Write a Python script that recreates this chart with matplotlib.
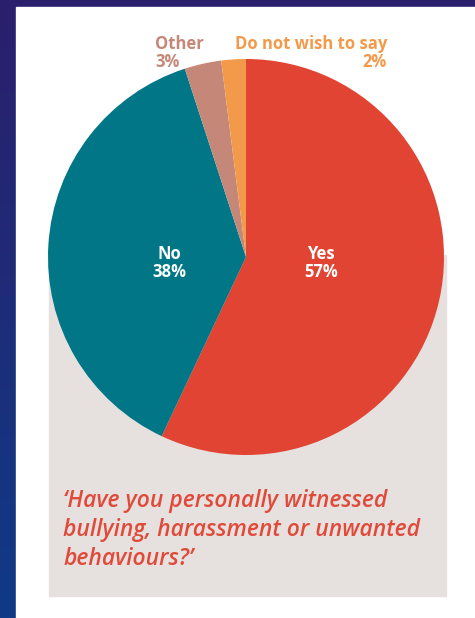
import numpy as np
import matplotlib.pyplot as plt
from matplotlib.patches import Rectangle
from matplotlib.font_manager import FontProperties

# survey answers
answers = ["Yes", "No", "Other", "Do not wish to say"]
shares = [57, 38, 3, 2]
colours = ["#e14432", "#017686", "#c58878", "#f39a4a"]
question = "\u2018Have you personally witnessed\nbullying, harassment or unwanted\nbehaviours?\u2019"

bold = FontProperties(family="Open Sans", weight=700, stretch="normal", size=12)
quote_font = FontProperties(family="Open Sans", style="italic", weight=600,
                            stretch="normal", size=16.5)

W, H = 475, 618
fig = plt.figure(figsize=(W / 100, H / 100), dpi=100)

# backdrop: dark blue gradient, white card, grey panel (pixel coords)
bg = fig.add_axes([0, 0, 1, 1])
bg.set_xlim(0, W)
bg.set_ylim(H, 0)
bg.axis("off")
top = np.array([0x2b, 0x1f, 0x6c]) / 255
bot = np.array([0x10, 0x3a, 0x86]) / 255
t = np.linspace(0, 1, 256)[:, None, None]
grad = top * (1 - t) + bot * t
bg.imshow(grad, extent=(0, W, H, 0), aspect="auto", zorder=0)
bg.add_patch(Rectangle((16, 7), W - 16, H - 7, color="white", zorder=1))
bg.add_patch(Rectangle((49, 255), 397, 341, color="#e6e1de", zorder=2))

bg.text(63, 530, question, color="#e04a3a", fontproperties=quote_font,
        va="center", ha="left", linespacing=1.3, zorder=3)

# pie centred at (246, 257) with radius 198 px
cx, cy, r = 246, 257, 198
ax = fig.add_axes([(cx - r) / W, 1 - (cy + r) / H, 2 * r / W, 2 * r / H])
wedges, _ = ax.pie(shares, colors=colours, startangle=90, counterclock=False,
                   wedgeprops=dict(linewidth=0))
ax.set_xlim(-1, 1)
ax.set_ylim(-1, 1)
ax.set_aspect("auto")
ax.axis("off")

# in-slice labels for the two big answers
for w, name, val in zip(wedges[:2], answers[:2], shares[:2]):
    mid = np.deg2rad((w.theta1 + w.theta2) / 2)
    ax.text(0.39 * np.cos(mid), -0.03, f"{name}\n{val}%", color="white",
            fontproperties=bold, ha="center", va="center", linespacing=1.0)

# outside labels for the small answers
bg.text(155, 53, f"{answers[2]}\n{shares[2]}%", color=colours[2],
        fontproperties=bold, ha="left", va="center", linespacing=1.0, zorder=3)
bg.text(387, 53, f"{answers[3]}\n{shares[3]}%", color=colours[3],
        fontproperties=bold, ha="right", va="center", linespacing=1.0,
        multialignment="right", zorder=3)

fig.savefig("out.png", dpi=100)
